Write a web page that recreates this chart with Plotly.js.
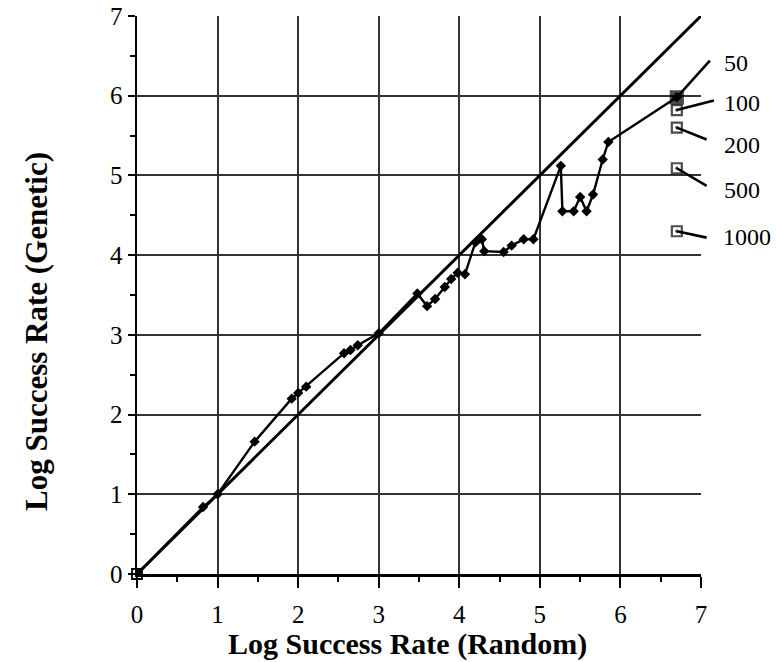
<!DOCTYPE html>
<html>
<head>
<meta charset="utf-8">
<script src="https://cdn.plot.ly/plotly-3.0.1.min.js"></script>
<style>
  html, body { margin: 0; padding: 0; background: #fff; }
  #chart { width: 776px; height: 662px; }
</style>
</head>
<body>
<div id="chart"></div>
<script>
// ---- data ----
const diagX = [0, 7];
const diagY = [0, 7];

const randomX = [0, 0.82, 1.0, 1.46, 1.92, 2.0, 2.1, 2.57, 2.65, 2.74, 3.0, 3.48, 3.6, 3.7, 3.82, 3.9, 3.98, 4.07, 4.2, 4.28, 4.31, 4.55, 4.65, 4.8, 4.92, 5.26, 5.28, 5.42, 5.5, 5.58, 5.66, 5.78, 5.85, 6.7];
const geneticY = [0, 0.84, 1.0, 1.66, 2.2, 2.27, 2.35, 2.77, 2.81, 2.87, 3.02, 3.52, 3.36, 3.45, 3.6, 3.7, 3.78, 3.76, 4.16, 4.2, 4.05, 4.04, 4.12, 4.2, 4.2, 5.12, 4.55, 4.55, 4.73, 4.55, 4.76, 5.2, 5.42, 5.98];

const endLabels = ["50", "100", "200", "500", "1000"];
const endX = [6.7, 6.7, 6.7, 6.7, 6.7];
const endY = [5.98, 5.82, 5.6, 5.09, 4.3];

// leader line tips and label anchors (data units, beyond the axis range)
const leaderTipX = [7.11, 7.16, 7.07, 7.07, 7.07];
const leaderTipY = [6.44, 5.94, 5.45, 4.87, 4.22];
const labelX = [7.26, 7.26, 7.26, 7.26, 7.25];
const labelY = [6.41, 5.91, 5.38, 4.82, 4.23];

const tickVals = [0, 1, 2, 3, 4, 5, 6, 7];
const tickText = ["0", "1", "2", "3", "4", "5", "6", "7"];

const xTitle = "Log Success Rate (Random)";
const yTitle = "Log Success Rate (Genetic)";

// ---- chart ----
const SERIF = '"Liberation Serif", "Times New Roman", Times, serif';
const AX_MAX = 7;

const traces = [
  {
    x: diagX, y: diagY, mode: 'lines', type: 'scatter',
    line: {color: '#000', width: 3}, hoverinfo: 'skip', showlegend: false
  },
  {
    x: randomX, y: geneticY, mode: 'lines+markers', type: 'scatter',
    line: {color: '#000', width: 2.4},
    marker: {symbol: 'diamond', size: 8, color: '#000'},
    showlegend: false
  },
  {
    x: [0], y: [0], mode: 'markers', type: 'scatter',
    marker: {symbol: 'square-cross-open', size: 10, color: '#000', line: {width: 1.8}},
    showlegend: false, cliponaxis: false
  },
  {
    x: endX, y: endY, mode: 'markers', type: 'scatter', text: endLabels,
    marker: {
      symbol: ['square', 'square-open-dot', 'square-open-dot', 'square-open-dot', 'square-open-dot'],
      size: [12, 10, 10, 10, 10], color: '#000', line: {width: 2.2, color: '#000'}
    },
    showlegend: false, cliponaxis: false
  }
];

const shapes = endLabels.map((lab, i) => ({
  type: 'line', xref: 'paper', yref: 'paper',
  x0: endX[i] / AX_MAX, y0: endY[i] / AX_MAX,
  x1: leaderTipX[i] / AX_MAX, y1: leaderTipY[i] / AX_MAX,
  line: {color: '#000', width: 2.6}
}));

const annotations = endLabels.map((lab, i) => ({
  text: lab, xref: 'paper', yref: 'paper',
  x: labelX[i] / AX_MAX, y: labelY[i] / AX_MAX,
  xanchor: 'left', yanchor: 'middle', showarrow: false,
  font: {family: SERIF, size: 24, color: '#000'}
}));

annotations.push({
  text: xTitle, xref: 'paper', yref: 'paper', x: 0.48, y: -0.125,
  xanchor: 'center', yanchor: 'middle', showarrow: false,
  font: {family: SERIF, size: 30, color: '#000', weight: 'bold'}
});
annotations.push({
  text: yTitle, xref: 'paper', yref: 'paper', x: -0.177, y: 0.434,
  xanchor: 'center', yanchor: 'middle', showarrow: false, textangle: -90,
  font: {family: SERIF, size: 31, color: '#000', weight: 'bold'}
});

const axisCommon = {
  range: [0, AX_MAX], fixedrange: true,
  tickmode: 'array', tickvals: tickVals, ticktext: tickText,
  showgrid: true, gridcolor: '#333', gridwidth: 2,
  zeroline: false, showline: true, linecolor: '#000', linewidth: 2.5,
  ticks: 'outside', tickcolor: '#000', tickwidth: 2,
  tickfont: {family: SERIF, size: 25, color: '#000'},
  minor: {tickmode: 'linear', tick0: 0, dtick: 0.5, ticks: 'outside', ticklen: 5, tickcolor: '#000', tickwidth: 2, showgrid: false}
};

const layout = {
  width: 776, height: 662,
  margin: {l: 137, r: 75, t: 16, b: 88, pad: 0},
  paper_bgcolor: '#fff', plot_bgcolor: '#fff',
  showlegend: false,
  xaxis: Object.assign({}, axisCommon, {ticklen: 11, ticklabelstandoff: 5}),
  yaxis: Object.assign({}, axisCommon, {ticklen: 7, ticklabelstandoff: 0}),
  shapes: shapes,
  annotations: annotations
};

Plotly.newPlot('chart', traces, layout, {staticPlot: true, displayModeBar: false});
</script>
</body>
</html>
